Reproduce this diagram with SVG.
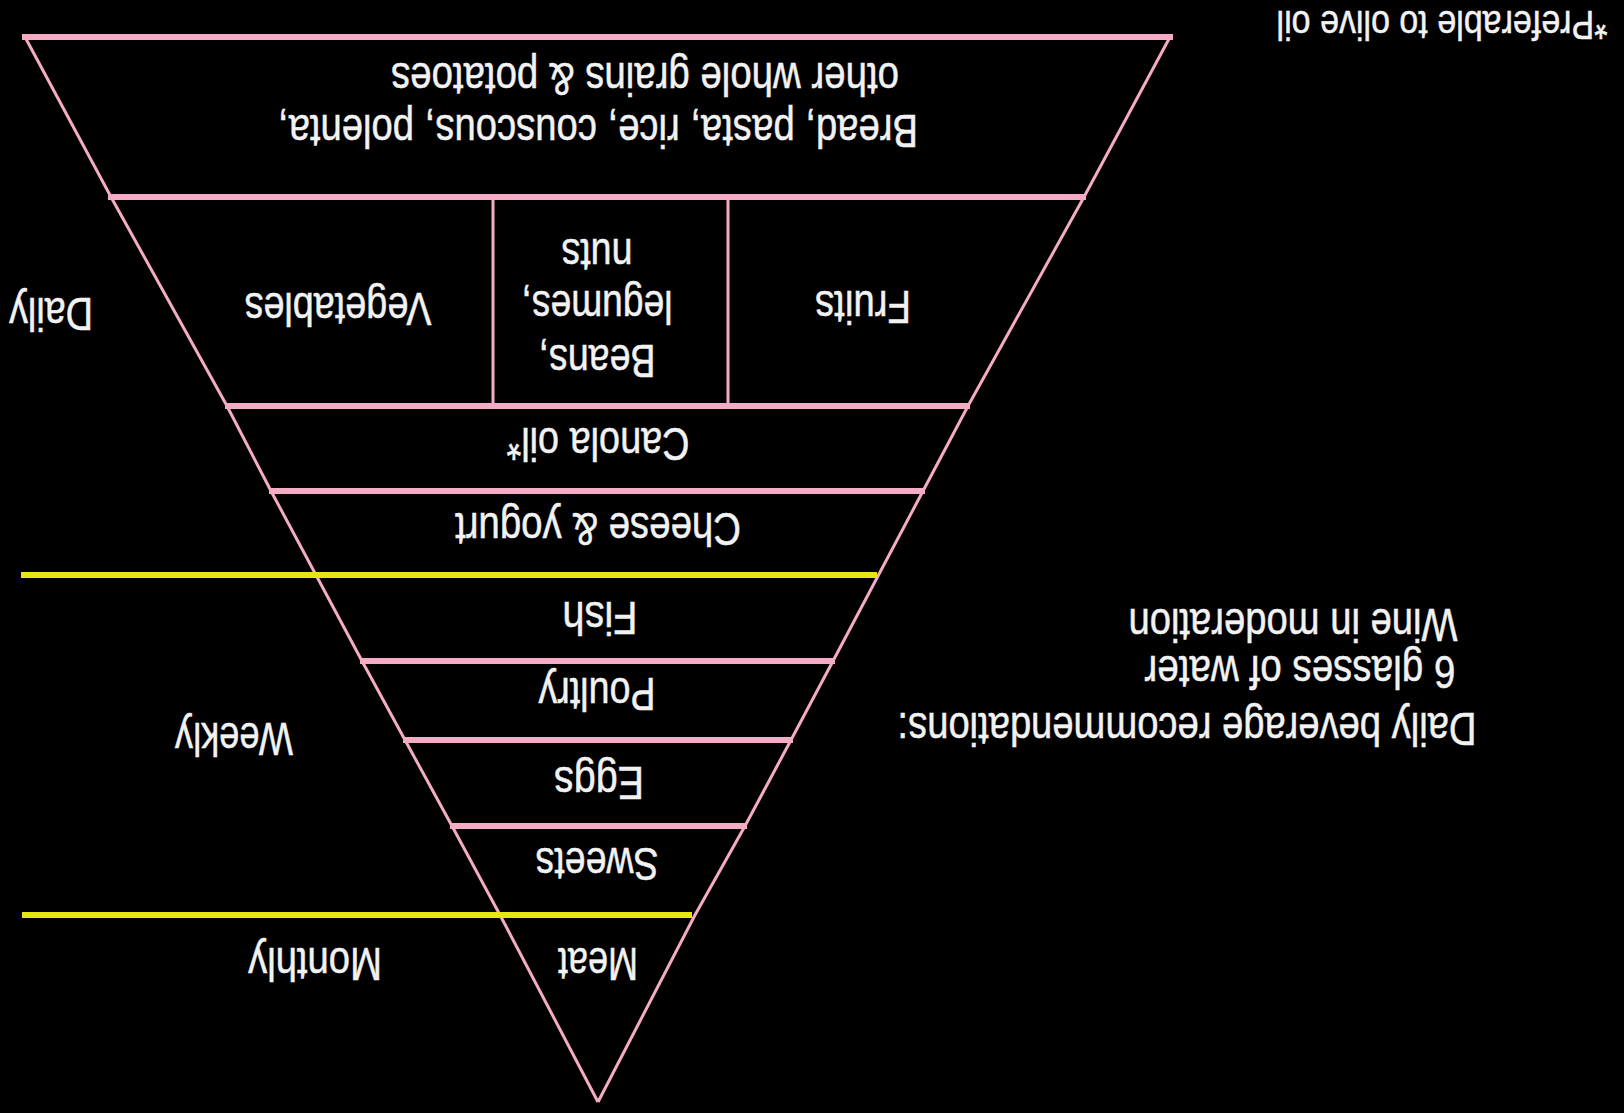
<svg xmlns="http://www.w3.org/2000/svg" width="1624" height="1113" viewBox="0 0 1624 1113">
<style>
.t{font-family:"Liberation Sans",Arial,sans-serif;font-size:38px;fill:#f2f2f2;text-anchor:middle;stroke:#f2f2f2;stroke-width:0.4}
.s{font-size:34px}
.pk{stroke:#f4abc6;fill:none;stroke-linecap:butt}
.h{stroke-width:6}
.sd{stroke-width:3}
.y{stroke:#e6e612;stroke-width:6}
</style>
<rect width="1624" height="1113" fill="#000"/>
<g id="lines">
<line class="pk h" x1="22" y1="37" x2="1173" y2="37"/>
<polyline class="pk sd" points="25,37 111,197 227,406 271,491 362,661 405,740 452,826 500,915 598,1102"/>
<polyline class="pk sd" points="1170,37 1084,197 968,406 923,491 833,661 791,740 745,826 695,915 598,1102"/>
<line class="pk h" x1="108" y1="197" x2="1086" y2="197"/>
<line class="pk h" x1="225" y1="406" x2="970" y2="406"/>
<line class="pk h" x1="269" y1="491" x2="925" y2="491"/>
<line class="pk h" x1="360" y1="661" x2="835" y2="661"/>
<line class="pk h" x1="403" y1="740" x2="793" y2="740"/>
<line class="pk h" x1="450" y1="826" x2="747" y2="826"/>
<line class="pk sd" x1="493" y1="197" x2="493" y2="406"/>
<line class="pk sd" x1="728" y1="197" x2="728" y2="406"/>
<line class="y" x1="21" y1="575" x2="877" y2="575"/>
<line class="y" x1="22" y1="915" x2="692" y2="915"/>
</g>
<g id="note"><text class="t s" transform="translate(1442,11) rotate(180) scale(1,1.2)" textLength="331" lengthAdjust="spacingAndGlyphs">*Preferable to olive oil</text></g>
<g id="grains"><text class="t" transform="translate(598,115) rotate(180) scale(1,1.24)" textLength="640" lengthAdjust="spacingAndGlyphs">Bread, pasta, rice, couscous, polenta,</text><text class="t" transform="translate(645,63) rotate(180) scale(1,1.24)" textLength="508" lengthAdjust="spacingAndGlyphs">other whole grains &amp; potatoes</text></g>
<g id="fruits"><text class="t" transform="translate(863,291) rotate(180) scale(1,1.24)" textLength="96" lengthAdjust="spacingAndGlyphs">Fruits</text></g>
<g id="beans"><text class="t" transform="translate(597,345) rotate(180) scale(1,1.24)" textLength="117" lengthAdjust="spacingAndGlyphs">Beans,</text><text class="t" transform="translate(597,291) rotate(180) scale(1,1.24)" textLength="151" lengthAdjust="spacingAndGlyphs">legumes,</text><text class="t" transform="translate(597,239) rotate(180) scale(1,1.24)" textLength="71" lengthAdjust="spacingAndGlyphs">nuts</text></g>
<g id="vegetables"><text class="t" transform="translate(338,293) rotate(180) scale(1,1.24)" textLength="187" lengthAdjust="spacingAndGlyphs">Vegetables</text></g>
<g id="daily"><text class="t" transform="translate(51,298) rotate(180) scale(1,1.24)" textLength="84" lengthAdjust="spacingAndGlyphs">Daily</text></g>
<g id="canola"><text class="t" transform="translate(598,428) rotate(180) scale(1,1.24)" textLength="183" lengthAdjust="spacingAndGlyphs">Canola oil*</text></g>
<g id="cheese"><text class="t" transform="translate(598,513) rotate(180) scale(1,1.24)" textLength="286" lengthAdjust="spacingAndGlyphs">Cheese &amp; yogurt</text></g>
<g id="fish"><text class="t" transform="translate(600,602) rotate(180) scale(1,1.24)" textLength="75" lengthAdjust="spacingAndGlyphs">Fish</text></g>
<g id="poultry"><text class="t" transform="translate(597,678) rotate(180) scale(1,1.24)" textLength="117" lengthAdjust="spacingAndGlyphs">Poultry</text></g>
<g id="eggs"><text class="t" transform="translate(599,767) rotate(180) scale(1,1.24)" textLength="90" lengthAdjust="spacingAndGlyphs">Eggs</text></g>
<g id="sweets"><text class="t" transform="translate(597,848) rotate(180) scale(1,1.24)" textLength="123" lengthAdjust="spacingAndGlyphs">Sweets</text></g>
<g id="meat"><text class="t" transform="translate(598,948) rotate(180) scale(1,1.24)" textLength="80" lengthAdjust="spacingAndGlyphs">Meat</text></g>
<g id="monthly"><text class="t" transform="translate(315,948) rotate(180) scale(1,1.24)" textLength="134" lengthAdjust="spacingAndGlyphs">Monthly</text></g>
<g id="weekly"><text class="t" transform="translate(234,723) rotate(180) scale(1,1.24)" textLength="118" lengthAdjust="spacingAndGlyphs">Weekly</text></g>
<g id="beverage"><text class="t" transform="translate(1187,713) rotate(180) scale(1,1.24)" textLength="579" lengthAdjust="spacingAndGlyphs">Daily beverage recommendations:</text><text class="t" transform="translate(1300,656) rotate(180) scale(1,1.24)" textLength="311" lengthAdjust="spacingAndGlyphs">6 glasses of water</text><text class="t" transform="translate(1293,609) rotate(180) scale(1,1.24)" textLength="329" lengthAdjust="spacingAndGlyphs">Wine in moderation</text></g>
</svg>
